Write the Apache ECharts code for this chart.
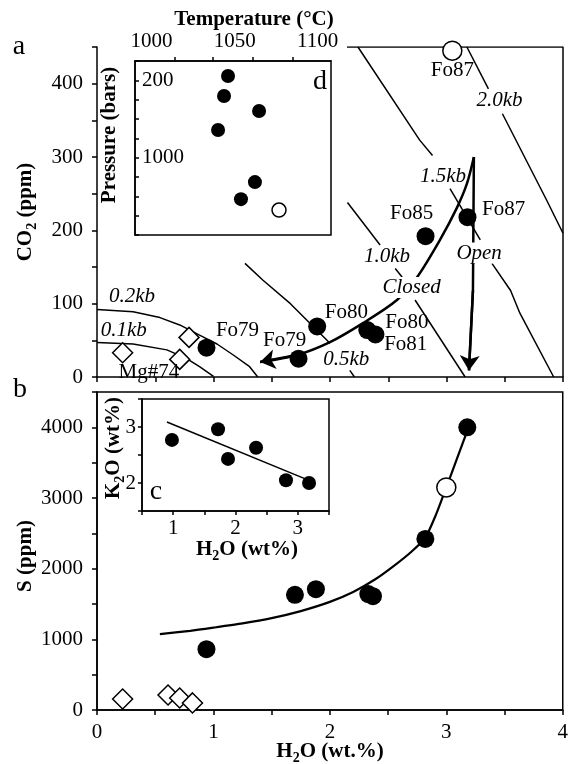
<!DOCTYPE html>
<html><head><meta charset="utf-8">
<script src="https://cdn.jsdelivr.net/npm/echarts@6/dist/echarts.min.js"></script>
<style>html,body{margin:0;padding:0;background:#fff}#c{width:571px;height:764px}</style>
</head><body><div id="c"></div>
<script>
// ---------- Panel a: H2O (wt.%) vs CO2 (ppm) ----------
const inclusionsA = [[0.94,40],[1.73,25],[1.89,69],[2.32,64],[2.39,58],[2.82,192],[3.18,218]];
const openInclA = [[3.05,445]];
const glassA = [[0.22,33],[0.79,54],[0.71,24]];
const isobar01 = [[[0,47],[0.31,45],[0.6,37],[0.77,25],[0.88,14],[1.0,1]]];
const isobar02 = [[[0,92],[0.31,89],[0.54,81],[0.71,71],[0.88,57],[1.03,45],[1.17,30],[1.31,14],[1.38,0]]];
const isobar05 = [[[1.27,155],[1.425,132],[1.66,100],[1.83,73],[2.0,46]],[[2.17,9],[2.21,0]]];
const isobar10 = [[[2.15,238],[2.43,180]],[[2.56,148],[2.62,136]],[[2.73,105],[3.16,0]]];
const isobar15 = [[[2.24,450],[2.77,323],[2.88,302]],[[3.03,257],[3.29,187]],[[3.39,155],[3.55,118],[3.63,87],[3.92,0]]];
const isobar20 = [[[3.175,450],[3.36,393]],[[3.48,359],[3.86,241],[4.0,196]]];
const closedPath = [[3.235,300],[3.176,264],[3.09,231],[2.944,187],[2.747,136],[2.575,105],[2.283,73.5],[2.0,47.6],[1.717,30],[1.40,20.4]];
const openPath = [[3.235,300],[3.227,118],[3.193,9]];
const frameA = [[2.146,450],[4,450],[4,0]];
const isobarLabels = [[0.30,110,'0.2kb'],[0.23,64,'0.1kb'],[2.14,24,'0.5kb'],[2.49,165,'1.0kb'],[2.97,273,'1.5kb'],[3.455,377,'2.0kb']];
const pathLabels = [[2.70,122,'Closed'],[3.28,169,'Open']];
const sampleLabels = [[0.446,6,'Mg#74'],[1.206,63,'Fo79'],[1.61,50,'Fo79'],[2.14,88,'Fo80'],[2.66,74,'Fo80'],[2.65,44,'Fo81'],[2.70,223,'Fo85'],[3.49,228,'Fo87'],[3.05,418,'Fo87']];
const co2TickLabels = [0,100,200,300,400];

// ---------- Panel b: H2O (wt.%) vs S (ppm) ----------
const inclusionsB = [[0.94,860],[1.70,1630],[1.88,1710],[2.33,1640],[2.37,1610],[2.82,2420],[3.18,4000]];
const openInclB = [[3.00,3150]];
const glassB = [[0.22,155],[0.61,212],[0.71,170],[0.82,100]];
const sCurve = [[0.54,1075],[0.8,1120],[1.0,1165],[1.25,1225],[1.5,1300],[1.75,1400],[2.0,1530],[2.2,1670],[2.39,1850],[2.55,2040],[2.7,2240],[2.82,2440],[2.91,2760],[3.0,3150],[3.09,3550],[3.18,3950]];
const sTickLabels = [0,1000,2000,3000,4000];
const h2oTickLabels = [0,1,2,3,4];

// ---------- Inset d: Temperature vs Pressure ----------
const inclTempD = [[1046,155],[1043.6,362],[1064.7,518],[1040,714],[1062.2,1253],[1053.8,1429]];
const openTempD = [[1076.7,1542]];
const tempTickLabels = [1000,1050,1100];
const tempTicks = [1014,1037,1061,1085];
const pressTickLabels = [200,1000];

// ---------- Inset c: H2O vs K2O ----------
const inclK2O = [[0.98,2.77],[1.72,2.96],[1.88,2.43],[2.33,2.63],[2.81,2.05],[3.18,2.0]];
const k2oFit = [[0.9,3.09],[3.13,2.07]];
const k2oTickLabels = [2,3];
const h2oInsetTickLabels = [1,2,3];

const F = "'Liberation Serif','Times New Roman',serif";
const BLK = '#000';

function vAxis(gi, o) {
  return Object.assign({
    type: 'value', gridIndex: gi, splitLine: {show: false},
    axisLine: {show: true, onZero: false, lineStyle: {color: BLK, width: 1.5}},
    axisTick: {show: true, length: 5, inside: false, lineStyle: {color: BLK, width: 1.5}},
    axisLabel: {show: true, color: BLK, fontFamily: F, fontSize: 21, margin: 12}
  }, o);
}
function only(list) { return v => (list.indexOf(Math.round(v * 1000) / 1000) >= 0 ? String(v) : ''); }

const series = [];
function segs(list, idx, w) {
  list.forEach(s => series.push({type: 'line', xAxisIndex: idx, yAxisIndex: idx, data: s, symbol: 'none',
    lineStyle: {color: BLK, width: w, opacity: 1}, silent: true, z: 2}));
}
[isobar01, isobar02, isobar05, isobar10, isobar15, isobar20].forEach(s => segs(s, 0, 1.5));
segs([frameA], 0, 1.5);
// closed & open degassing paths
series.push({type: 'line', xAxisIndex: 0, yAxisIndex: 0, data: closedPath, symbol: 'none', smooth: 0.3,
  lineStyle: {color: BLK, width: 2.5, opacity: 1}, z: 3, silent: true});
series.push({type: 'line', xAxisIndex: 0, yAxisIndex: 0, data: openPath, symbol: 'none',
  lineStyle: {color: BLK, width: 2.5, opacity: 1}, z: 3, silent: true});
series.push({type: 'lines', coordinateSystem: 'cartesian2d', xAxisIndex: 0, yAxisIndex: 0,
  symbol: ['none', 'arrow'], symbolSize: 15, z: 3, silent: true,
  lineStyle: {color: BLK, width: 2.5, opacity: 1, curveness: 0},
  data: [{coords: closedPath.slice(-2)}, {coords: openPath.slice(-2)}]});

function pts(idx, data, opt) {
  series.push(Object.assign({type: 'scatter', xAxisIndex: idx, yAxisIndex: idx, data: data, z: 5, silent: true}, opt));
}
const filled = s => ({symbol: 'circle', symbolSize: s, itemStyle: {color: BLK, opacity: 1}});
const hollow = s => ({symbol: 'circle', symbolSize: s, itemStyle: {color: '#fff', borderColor: BLK, borderWidth: 1.5, opacity: 1}});
const diamond = {symbol: 'diamond', symbolSize: 20, itemStyle: {color: '#fff', borderColor: BLK, borderWidth: 1.5, opacity: 1}};

pts(0, glassA, diamond);
pts(0, inclusionsA, filled(18));
pts(0, openInclA, hollow(19));

function textSeries(arr, italic, bg) {
  series.push({type: 'scatter', xAxisIndex: 0, yAxisIndex: 0, data: arr, symbolSize: 1, silent: true, z: 20,
    itemStyle: {color: '#fff', opacity: 1},
    label: {show: true, position: 'inside', formatter: p => p.data[2], color: BLK, opacity: 1, fontFamily: F, fontSize: 21,
      fontStyle: italic ? 'italic' : 'normal', backgroundColor: bg ? '#fff' : 'transparent', padding: bg ? [0, 1] : 0}});
}
textSeries(isobarLabels, true, false);
textSeries(pathLabels, true, true);
textSeries(sampleLabels, false, false);

// panel b
series.push({type: 'line', xAxisIndex: 1, yAxisIndex: 1, data: sCurve, symbol: 'none', smooth: 0.2,
  lineStyle: {color: BLK, width: 2.2, opacity: 1}, z: 3, silent: true});
pts(1, glassB, diamond);
pts(1, inclusionsB, filled(18));
pts(1, openInclB, hollow(19));

// inset d
pts(2, inclTempD, filled(14));
pts(2, openTempD, hollow(14));

// inset c
series.push({type: 'line', xAxisIndex: 3, yAxisIndex: 3, data: k2oFit, symbol: 'none',
  lineStyle: {color: BLK, width: 1.5, opacity: 1}, z: 3, silent: true});
pts(3, inclK2O, filled(14));

const richT = {
  m: {fontFamily: F, fontSize: 21, fontWeight: 'bold', color: BLK},
  s: {fontFamily: F, fontSize: 14, fontWeight: 'bold', color: BLK, padding: [12, 0, 0, 0]}
};
function title(x, y, text, rot) {
  return {type: 'text', x: x, y: y, rotation: rot ? Math.PI / 2 : 0, z: 100, silent: true,
    style: {text: text, rich: richT, fontFamily: F, fontSize: 21, fontWeight: 'bold', fill: BLK, align: 'center', verticalAlign: 'middle'}};
}
function letter(x, y, t) {
  return {type: 'text', x: x, y: y, z: 100, silent: true,
    style: {text: t, fontFamily: F, fontSize: 28, fill: BLK, align: 'center', verticalAlign: 'middle'}};
}

const option = {
  animation: false,
  backgroundColor: '#fff',
  grid: [
    {left: 97, top: 47, width: 466, height: 330, show: false},
    {left: 97, top: 392, width: 466, height: 318, show: true, borderColor: BLK, borderWidth: 1.5, backgroundColor: 'transparent'},
    {left: 135, top: 61, width: 196, height: 174, show: true, borderColor: BLK, borderWidth: 1.5, backgroundColor: 'transparent'},
    {left: 142, top: 399, width: 187, height: 112, show: true, borderColor: BLK, borderWidth: 1.5, backgroundColor: 'transparent'}
  ],
  xAxis: [
    vAxis(0, {min: 0, max: 4, interval: 0.5, axisLabel: {show: false}}),
    vAxis(1, {min: 0, max: 4, interval: 0.5,
      axisLabel: {color: BLK, fontFamily: F, fontSize: 21, margin: 12, formatter: only(h2oTickLabels)}}),
    vAxis(2, {min: 990, max: 1108, position: 'top',
      axisTick: {show: true, length: 4, customValues: tempTicks, lineStyle: {color: BLK, width: 1.5}},
      axisLabel: {color: BLK, fontFamily: F, fontSize: 21, margin: 9, customValues: tempTickLabels, formatter: v => String(v)}}),
    vAxis(3, {min: 0.5, max: 3.5, interval: 0.5,
      axisTick: {show: true, length: 4, lineStyle: {color: BLK, width: 1.5}},
      axisLabel: {color: BLK, fontFamily: F, fontSize: 21, margin: 7, formatter: only(h2oInsetTickLabels)}})
  ],
  yAxis: [
    vAxis(0, {min: 0, max: 450, interval: 50,
      axisLabel: {color: BLK, fontFamily: F, fontSize: 21, margin: 14, formatter: only(co2TickLabels)}}),
    vAxis(1, {min: 0, max: 4500, interval: 500,
      axisLabel: {color: BLK, fontFamily: F, fontSize: 21, margin: 14, formatter: only(sTickLabels)}}),
    vAxis(2, {min: 0, max: 1800, interval: 200, inverse: true,
      axisTick: {show: true, length: 4, inside: true, lineStyle: {color: BLK, width: 1.5}},
      axisLabel: {show: true, color: BLK, fontFamily: F, fontSize: 21, margin: 7, inside: true, formatter: only(pressTickLabels)}}),
    vAxis(3, {min: 1.5, max: 3.5, interval: 0.5,
      axisTick: {show: true, length: 4, lineStyle: {color: BLK, width: 1.5}},
      axisLabel: {color: BLK, fontFamily: F, fontSize: 21, margin: 6, formatter: only(k2oTickLabels)}})
  ],
  series: series,
  graphic: [
    title(254, 20, 'Temperature (°C)', false),
    title(110, 135, 'Pressure (bars)', true),
    title(26, 212, '{m|CO}{s|2}{m| (ppm)}', true),
    title(26, 556, '{m|S (ppm)}', true),
    title(114, 448, '{m|K}{s|2}{m|O (wt%)}', true),
    title(247, 550, '{m|H}{s|2}{m|O (wt%)}', false),
    title(330, 752, '{m|H}{s|2}{m|O (wt.%)}', false),
    letter(19, 47, 'a'),
    letter(20, 390, 'b'),
    letter(320, 82, 'd'),
    letter(156, 492, 'c')
  ]
};
const chart = echarts.init(document.getElementById('c'));
chart.setOption(option);
</script>
</body></html>
